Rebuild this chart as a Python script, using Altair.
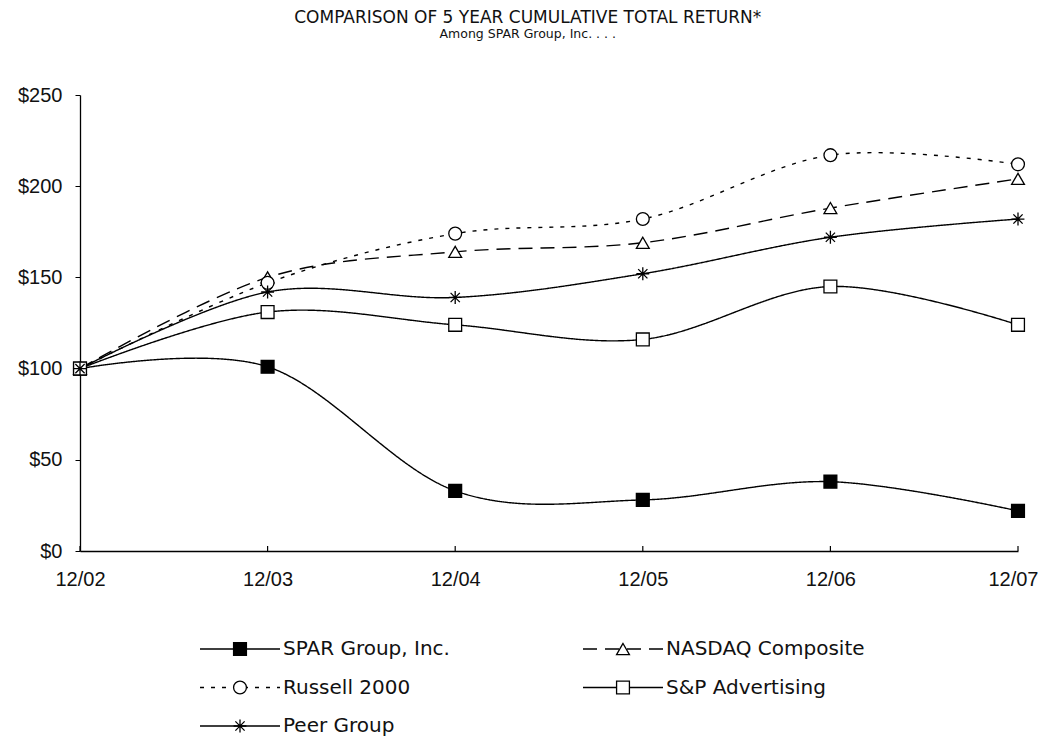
import altair as alt
import pandas as pd

# ---- data ----
periods = ["12/02", "12/03", "12/04", "12/05", "12/06", "12/07"]
series_names = ["SPAR Group, Inc.", "NASDAQ Composite", "Russell 2000",
                "S&P Advertising", "Peer Group"]
spar = [100, 101, 33, 28, 38, 22]
nasdaq = [100, 150, 164, 169, 188, 204]
russell = [100, 147, 174, 182, 217, 212]
sp_adv = [100, 131, 124, 116, 145, 124]
peer = [100, 142, 139, 152, 172, 182]
y_ticks = [0, 50, 100, 150, 200, 250]
legend_col = [0, 1, 0, 1, 0]
legend_row = [0, 0, 1, 1, 2]

values = {
    "SPAR Group, Inc.": spar,
    "NASDAQ Composite": nasdaq,
    "Russell 2000": russell,
    "S&P Advertising": sp_adv,
    "Peer Group": peer,
}
rows = []
for s in series_names:
    for p, v in zip(periods, values[s]):
        rows.append({"series": s, "period": p, "value": v})
df = pd.DataFrame(rows)
legend_df = pd.DataFrame({"series": series_names, "col": legend_col, "row": legend_row})
tick_df = pd.DataFrame({"period": periods})

FONT = "DejaVu Sans"
AXFONT = "Liberation Sans"
asterisk = "M-1,0L1,0M0,-1L0,1M-0.72,-0.72L0.72,0.72M-0.72,0.72L0.72,-0.72"

dash_scale = alt.Scale(domain=series_names,
                       range=[[1, 0], [14, 8], [4, 7], [1, 0], [1, 0]])
legend_dash_scale = alt.Scale(domain=series_names,
                              range=[[1, 0], [13, 41, 14, 20], [4, 7], [1, 0], [1, 0]])
shape_scale = alt.Scale(domain=series_names,
                        range=["square", "triangle-up", "circle", "square", asterisk])
fill_scale = alt.Scale(domain=series_names,
                       range=["black", "white", "white", "white", "white"])

W, H = 938, 456
last = periods[-1]

x_enc = alt.X("period:O", sort=periods,
              scale=alt.Scale(type="point", padding=0),
              axis=alt.Axis(title=None, labelAngle=0, ticks=False, labelPadding=18,
                            labelFontSize=20, labelFont=AXFONT, labelColor="#111",
                            labelAlign={"condition": {"test": f"datum.label == '{last}'", "value": "right"},
                                        "value": "center"},
                            labelOffset={"condition": {"test": f"datum.label == '{last}'", "value": 20},
                                         "value": 0},
                            domainColor="black", domainWidth=1.3, grid=False))
y_enc = alt.Y("value:Q", scale=alt.Scale(domain=[0, 250], nice=False),
              axis=alt.Axis(title=None, values=y_ticks, labelExpr="'$' + datum.value",
                            tickSize=5, tickColor="black", labelPadding=13,
                            labelFontSize=20, labelFont=AXFONT, labelColor="#111",
                            domainColor="black", domainWidth=1.3, grid=False))

lines = alt.Chart(df).mark_line(interpolate="cardinal", strokeWidth=1.4, color="black").encode(
    x=x_enc, y=y_enc, detail="series:N",
    strokeDash=alt.StrokeDash("series:N", scale=dash_scale, legend=None),
)
points = alt.Chart(df).mark_point(filled=True, size=165, stroke="black", strokeWidth=1.3, opacity=1).encode(
    x=x_enc, y=y_enc,
    shape=alt.Shape("series:N", scale=shape_scale, legend=None),
    fill=alt.Fill("series:N", scale=fill_scale, legend=None),
)
xticks = alt.Chart(tick_df).mark_rule(color="black", strokeWidth=1.2).encode(
    x=alt.X("period:O", sort=periods), y=alt.value(H - 5), y2=alt.value(H)
)
main = alt.layer(lines, xticks, points).properties(width=W, height=H)

lx = alt.X("col:O", scale=alt.Scale(type="point", domain=[0, 1], range=[120, 503], padding=0), axis=None)
ly = alt.Y("row:O", scale=alt.Scale(type="point", domain=[0, 1, 2], range=[17, 94], padding=0), axis=None)
leg_lines = alt.Chart(legend_df).mark_rule(x2Offset=80, strokeWidth=1.4, color="black").encode(
    x=lx, x2="col:O", y=ly,
    strokeDash=alt.StrokeDash("series:N", scale=legend_dash_scale, legend=None),
)
leg_points = alt.Chart(legend_df).mark_point(xOffset=40, filled=True, size=165, stroke="black",
                                             strokeWidth=1.3, opacity=1).encode(
    x=lx, y=ly,
    shape=alt.Shape("series:N", scale=shape_scale, legend=None),
    fill=alt.Fill("series:N", scale=fill_scale, legend=None),
)
leg_text = alt.Chart(legend_df).mark_text(xOffset=83, align="left", baseline="middle",
                                          fontSize=20, font=FONT, color="#111").encode(
    x=lx, y=ly, text="series:N"
)
legend = alt.layer(leg_lines, leg_points, leg_text).properties(width=W, height=97)

chart = alt.vconcat(
    main, legend, spacing=43,
    title=alt.TitleParams(
        "COMPARISON OF 5 YEAR CUMULATIVE TOTAL RETURN*",
        subtitle="Among SPAR Group, Inc.  .  .  .",
        font=FONT, fontSize=17, fontWeight="normal", color="#111",
        subtitleFont=FONT, subtitleFontSize=12.5, subtitleColor="#111",
        subtitlePadding=1, anchor="middle", offset=44,
    ),
).properties(
    padding={"left": 9, "top": 0, "right": 0, "bottom": 0}
).configure_view(stroke=None)

chart.save("out.html", embed_options={"renderer": "svg", "actions": False})
